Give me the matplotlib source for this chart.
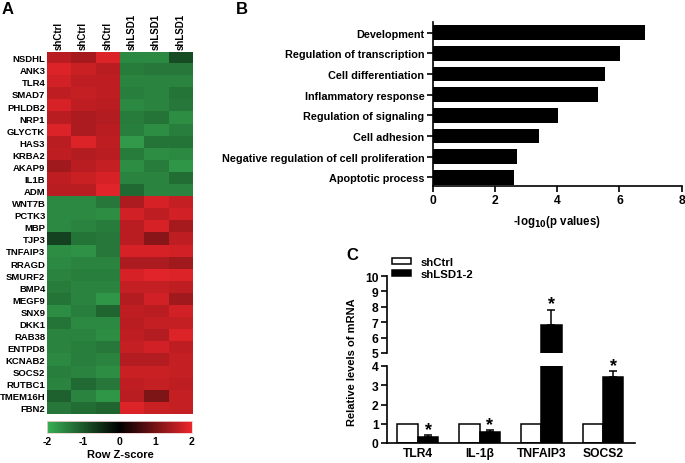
import numpy as np
import matplotlib
matplotlib.use("Agg")
import matplotlib.pyplot as plt
from matplotlib.colors import LinearSegmentedColormap

plt.rcParams["font.family"] = ["Liberation Sans", "DejaVu Sans"]
plt.rcParams["font.weight"] = "bold"
plt.rcParams["axes.linewidth"] = 1.2

# Panel A: heatmap of row z-scores
genes = ["NSDHL", "ANK3", "TLR4", "SMAD7", "PHLDB2", "NRP1", "GLYCTK", "HAS3",
         "KRBA2", "AKAP9", "IL1B", "ADM", "WNT7B", "PCTK3", "MBP", "TJP3",
         "TNFAIP3", "RRAGD", "SMURF2", "BMP4", "MEGF9", "SNX9", "DKK1", "RAB38",
         "ENTPD8", "KCNAB2", "SOCS2", "RUTBC1", "TMEM16H", "FBN2"]
samples = ["shCtrl", "shCtrl", "shCtrl", "shLSD1", "shLSD1", "shLSD1"]
zscores = [
    [1.55, 1.40, 1.85, -1.55, -1.55, -0.85],
    [1.85, 1.70, 1.55, -1.40, -1.35, -1.35],
    [1.75, 1.60, 1.60, -1.50, -1.50, -1.50],
    [1.60, 1.65, 1.60, -1.45, -1.50, -1.30],
    [1.80, 1.60, 1.55, -1.55, -1.50, -1.35],
    [1.55, 1.45, 1.50, -1.40, -1.30, -1.60],
    [1.85, 1.45, 1.55, -1.45, -1.60, -1.45],
    [1.55, 1.85, 1.60, -1.75, -1.30, -1.30],
    [1.60, 1.50, 1.55, -1.40, -1.60, -1.55],
    [1.35, 1.55, 1.65, -1.60, -1.40, -1.70],
    [1.60, 1.70, 1.80, -1.50, -1.50, -1.25],
    [1.55, 1.55, 1.90, -1.20, -1.50, -1.50],
    [-1.55, -1.55, -1.35, 1.45, 1.80, 1.65],
    [-1.55, -1.55, -1.60, 1.75, 1.60, 1.75],
    [-1.55, -1.50, -1.40, 1.55, 1.80, 1.40],
    [-0.75, -1.30, -1.35, 1.55, 1.15, 1.60],
    [-1.60, -1.65, -1.35, 1.80, 1.80, 1.75],
    [-1.55, -1.50, -1.50, 1.45, 1.45, 1.35],
    [-1.50, -1.45, -1.45, 1.80, 1.90, 1.85],
    [-1.40, -1.50, -1.50, 1.65, 1.65, 1.60],
    [-1.30, -1.50, -1.70, 1.50, 1.75, 1.35],
    [-1.60, -1.45, -1.15, 1.60, 1.55, 1.75],
    [-1.30, -1.55, -1.55, 1.55, 1.65, 1.65],
    [-1.50, -1.50, -1.60, 1.60, 1.50, 1.85],
    [-1.50, -1.45, -1.35, 1.65, 1.75, 1.60],
    [-1.55, -1.45, -1.50, 1.50, 1.50, 1.65],
    [-1.45, -1.50, -1.60, 1.70, 1.70, 1.65],
    [-1.50, -1.20, -1.35, 1.60, 1.65, 1.60],
    [-1.10, -1.50, -1.70, 1.55, 1.05, 1.65],
    [-1.35, -1.25, -1.15, 1.85, 1.70, 1.65],
]

# Panel B: GO terms
go_terms = ["Development", "Regulation of transcription", "Cell differentiation",
            "Inflammatory response", "Regulation of signaling", "Cell adhesion",
            "Negative regulation of cell proliferation", "Apoptotic process"]
go_logp = [6.83, 6.02, 5.52, 5.32, 4.02, 3.42, 2.70, 2.62]

# Panel C: qPCR
qpcr_genes = ["TLR4", "IL-1β", "TNFAIP3", "SOCS2"]
ctrl_vals = [1.0, 1.0, 1.0, 1.0]
kd_vals = [0.32, 0.57, 6.82, 3.45]
kd_err = [0.10, 0.10, 1.00, 0.28]

W, H = 685, 464


def rect(l, t, r, b):
    return [l / W, 1 - b / H, (r - l) / W, (b - t) / H]


fig = plt.figure(figsize=(W / 100, H / 100), dpi=100)

cmap = LinearSegmentedColormap.from_list(
    "gkr", [(0.22, 0.69, 0.33), (0, 0, 0), (0.93, 0.15, 0.17)])

# ---- A ----
axA = fig.add_axes(rect(46.7, 52.7, 192.7, 415))
axA.imshow(np.array(zscores), cmap=cmap, vmin=-2, vmax=2, aspect="auto",
           interpolation="nearest")
axA.set_yticks(range(len(genes)))
axA.set_yticklabels(genes, fontsize=6.8, fontweight="bold")
axA.set_xticks(range(len(samples)))
axA.set_xticklabels(samples, fontsize=7, fontweight="bold", rotation=90)
axA.xaxis.tick_top()
axA.tick_params(axis="y", length=0, pad=1)
axA.tick_params(axis="x", length=0, pad=2)
for s in axA.spines.values():
    s.set_visible(False)

axCb = fig.add_axes(rect(47, 422, 192, 434))
grad = np.linspace(-2, 2, 256).reshape(1, -1)
axCb.imshow(grad, cmap=cmap, vmin=-2, vmax=2, aspect="auto",
            extent=[-2, 2, 0, 1])
axCb.set_yticks([])
axCb.set_xticks([-2, -1, 0, 1, 2])
axCb.set_xticklabels(["-2", "-1", "0", "1", "2"], fontsize=7.5, fontweight="bold")
axCb.tick_params(length=0, pad=2)
for s in axCb.spines.values():
    s.set_color("#f0d0d0")
    s.set_linewidth(0.6)
fig.text(120 / W, 1 - 455 / H, "Row Z-score", ha="center", va="center",
         fontsize=8, fontweight="bold")

# ---- B ----
axB = fig.add_axes(rect(432.7, 23, 681.7, 187))
ypos = np.arange(len(go_terms))
axB.barh(ypos, go_logp, height=0.72, color="black")
axB.set_ylim(7.42, -0.52)
axB.set_xlim(0, 8)
axB.set_xticks([0, 2, 4, 6, 8])
axB.set_yticks(ypos)
axB.set_yticklabels(go_terms, fontsize=7.8, fontweight="bold")
axB.tick_params(axis="x", labelsize=8.7, length=4, width=1.2, pad=2)
axB.tick_params(axis="y", length=4, width=1.2, pad=2)
for lab in axB.get_xticklabels():
    lab.set_fontweight("bold")
axB.spines["top"].set_visible(False)
axB.spines["right"].set_visible(False)
axB.set_xlabel(r"-log$_{10}$(p values)", fontsize=8.3, fontweight="bold",
               labelpad=5)

# ---- C ----
x = np.arange(len(qpcr_genes))
bw = 0.33
axLo = fig.add_axes(rect(387, 367, 635, 444))
axHi = fig.add_axes(rect(387, 277, 635, 354))
for ax in (axLo, axHi):
    ax.bar(x - bw / 2, ctrl_vals, width=bw, color="white", edgecolor="black",
           linewidth=1.1, label="shCtrl")
    ax.bar(x + bw / 2, kd_vals, width=bw, color="black", edgecolor="black",
           linewidth=1.1, label="shLSD1-2",
           yerr=[np.zeros(len(kd_err)), kd_err], capsize=3,
           error_kw=dict(elinewidth=1.1, capthick=1.1, ecolor="black"))
    ax.set_xlim(-0.5, 3.52)
    ax.spines["top"].set_visible(False)
    ax.spines["right"].set_visible(False)
    ax.tick_params(axis="y", labelsize=8.7, length=4, width=1.2, pad=2)
    for lab in ax.get_yticklabels():
        lab.set_fontweight("bold")
    for i in range(len(x)):
        top = kd_vals[i] + kd_err[i]
        ax.annotate("*", (x[i] + bw / 2, top), xytext=(0, -2),
                    textcoords="offset points", ha="center", va="bottom",
                    fontsize=13, fontweight="bold", annotation_clip=True)

axLo.set_ylim(0, 4)
axLo.set_yticks([0, 1, 2, 3, 4])
axLo.set_xticks(x)
axLo.set_xticklabels(qpcr_genes, fontsize=8.7, fontweight="bold")
axLo.tick_params(axis="x", length=0, pad=3)

axHi.set_ylim(5, 10)
axHi.set_yticks([5, 6, 7, 8, 9, 10])
axHi.set_xticks([])
axHi.spines["bottom"].set_visible(False)

fig.text(352 / W, 1 - 362 / H, "Relative levels of mRNA", rotation=90,
         ha="center", va="center", fontsize=8, fontweight="bold")

handles, labels = axLo.get_legend_handles_labels()
fig.legend(handles, labels, loc="upper left",
           bbox_to_anchor=(384 / W, 1 - 250 / H), frameon=False,
           fontsize=8.2, handlelength=1.7, handleheight=0.5,
           handletextpad=0.8, labelspacing=0.2, borderpad=0.2)

# panel letters
fig.text(2 / W, 1 - 10 / H, "A", fontsize=12, fontweight="bold", va="center")
fig.text(236 / W, 1 - 10 / H, "B", fontsize=12, fontweight="bold", va="center")
fig.text(346 / W, 1 - 256 / H, "C", fontsize=12, fontweight="bold", va="center")

fig.savefig("out.png", dpi=100)
